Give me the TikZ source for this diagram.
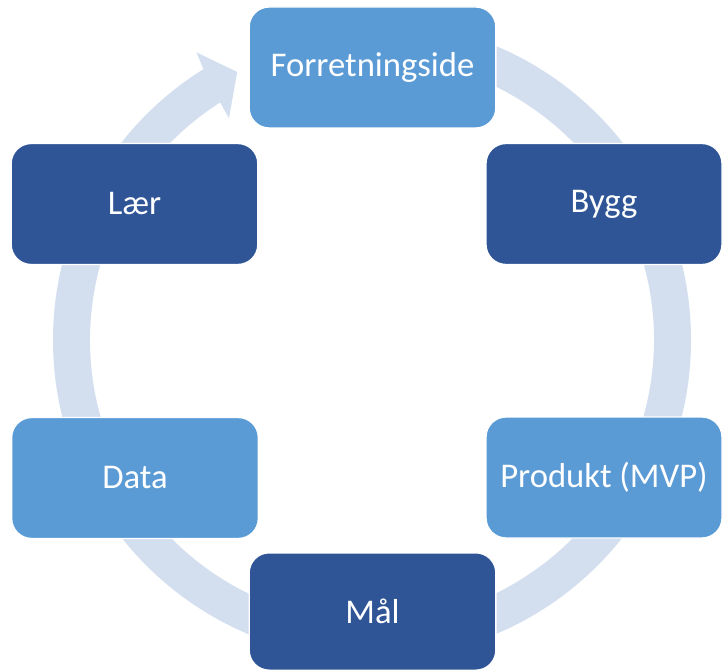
\documentclass[tikz,border=0pt]{standalone}
\usepackage{fontspec}
\setmainfont{Carlito}

\definecolor{lysblaa}{HTML}{5B9BD5}
\definecolor{morkblaa}{HTML}{2F5597}
\definecolor{ringblaa}{HTML}{D3DEEF}

\tikzset{
  boks/.style={rounded corners=15pt, draw=white, line width=1pt, text=white,
    font=\fontsize{26}{31}\selectfont, inner sep=0pt,
    minimum width=185pt, minimum height=90.75pt},
  lys/.style={boks, fill=lysblaa},
  mork/.style={boks, fill=morkblaa},
  smal/.style={minimum width=177pt}
}

\begin{document}
\begin{tikzpicture}[x=0.75pt,y=0.75pt]
        \useasboundingbox (0,0) rectangle (723,671);

        \fill[ringblaa, shift={(372,331)}] (90:319) arc[start angle=90, end angle=-238.1, radius=319]
            -- (-238.6:337) -- (-243.3:300) -- (-237.2:264) -- (-237.4:282)
            arc[start angle=-237.4, end angle=90, radius=282] -- cycle;

        \node[lys] (forr) at (372.5,603.5) {Forretningside};
        \node[mork, smal] (bygg) at (604,467) {Bygg};
        \node[lys, smal] (produkt) at (604,193.5) {Produkt (MVP)};
        \node[mork, minimum height=88pt] (maal) at (372.5,59.5) {Mål};
        \node[lys] (data) at (135,193) {Data};
        \node[mork] (laer) at (134.5,467) {Lær};
    \end{tikzpicture}
\end{document}
